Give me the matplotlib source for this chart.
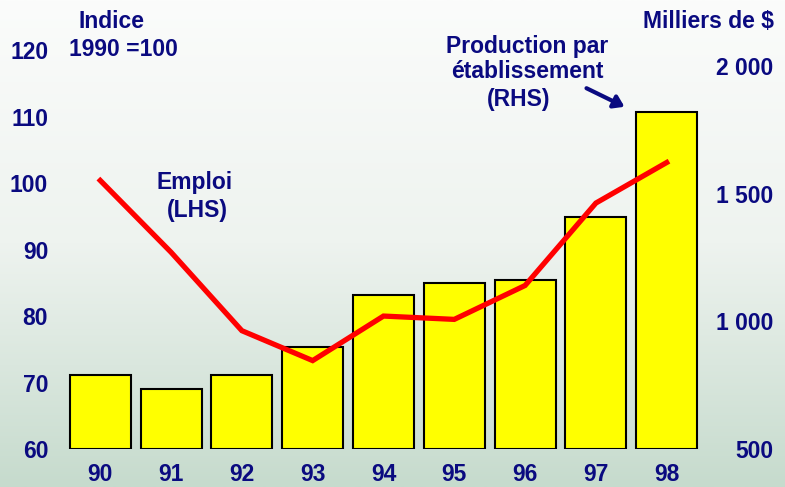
import matplotlib
matplotlib.use('Agg')
import matplotlib.pyplot as plt
import numpy as np
from matplotlib.colors import LinearSegmentedColormap

plt.rcParams['font.family'] = ['Liberation Sans', 'DejaVu Sans']

# data
years = ['90', '91', '92', '93', '94', '95', '96', '97', '98']
production = [790, 735, 790, 900, 1105, 1152, 1160, 1407, 1819]   # milliers de $, RHS
emploi = [100.4, 89.6, 77.8, 73.3, 80.0, 79.5, 84.6, 97.0, 103.1]  # indice 1990=100, LHS
left_ticks = [60, 70, 80, 90, 100, 110, 120]
right_ticks = [500, 1000, 1500, 2000]
right_labels = ['500', '1 000', '1 500', '2 000']

navy = '#0a0a80'
fs = 16.5

fig = plt.figure(figsize=(7.85, 4.87), dpi=100)

# background gradient
bg = fig.add_axes([0, 0, 1, 1])
grad = np.linspace(0, 1, 256).reshape(-1, 1)
cmap = LinearSegmentedColormap.from_list('bg', ['#fbfcfb', '#eef3ef', '#c6dbcd'])
bg.imshow(grad, aspect='auto', cmap=cmap, extent=[0, 1, 0, 1], origin='upper')
bg.axis('off')

ax = fig.add_axes([0.079, 0.078, 0.819, 0.819])
ax.patch.set_visible(False)
x = np.arange(len(years))
ax.set_xlim(-0.54, 8.54)
ax.set_ylim(60, 120)

ax2 = ax.twinx()
ax2.set_ylim(500, 2062)
ax2.bar(x, [p - 500 for p in production], bottom=500, width=0.86,
        color='#ffff00', edgecolor='black', linewidth=1.5, zorder=2)

ax3 = ax.twinx()
ax3.set_ylim(60, 120)
ax3.plot(x, emploi, color='#ff0000', linewidth=3.8, solid_joinstyle='miter', zorder=3)
ax3.set_yticks([])

for a in (ax, ax2, ax3):
    for s in a.spines.values():
        s.set_visible(False)

ax.set_yticks(left_ticks)
ax.set_yticklabels([str(t) for t in left_ticks])
ax.tick_params(axis='y', length=0, pad=10, labelsize=fs, labelcolor=navy)
for lab in ax.get_yticklabels():
    lab.set_fontweight('bold')
ax.set_xticks(x)
ax.set_xticklabels(years)
ax.tick_params(axis='x', length=0, pad=10, labelsize=fs, labelcolor=navy)
for lab in ax.get_xticklabels():
    lab.set_fontweight('bold')

ax2.set_yticks(right_ticks)
ax2.set_yticklabels(right_labels)
ax2.tick_params(axis='y', length=0, pad=49, labelsize=fs, labelcolor=navy)
for lab in ax2.get_yticklabels():
    lab.set_fontweight('bold')
    lab.set_horizontalalignment('right')

# annotations in pixel coords (figure fraction)
def fx(px):
    return px / 785

def fy(py):
    return 1 - py / 487

tkw = dict(color=navy, fontsize=fs, fontweight='bold', va='center')
fig.text(fx(112), fy(22), 'Indice', ha='center', **tkw)
fig.text(fx(123), fy(50), '1990 =100', ha='center', **tkw)
fig.text(fx(774), fy(22), 'Milliers de $', ha='right', **tkw)
fig.text(fx(527), fy(47), 'Production par', ha='center', **tkw)
fig.text(fx(527), fy(71), 'établissement', ha='center', **tkw)
fig.text(fx(519), fy(100), '(RHS)', ha='center', **tkw)
fig.text(fx(195), fy(182), 'Emploi', ha='center', **tkw)
fig.text(fx(197), fy(211), '(LHS)', ha='center', **tkw)

fig.add_artist(matplotlib.patches.FancyArrowPatch(
    (fx(584), fy(87)), (fx(627), fy(108)), transform=fig.transFigure,
    arrowstyle='-|>,head_length=6,head_width=4', color=navy, linewidth=3))

plt.savefig('out.png', dpi=100)
